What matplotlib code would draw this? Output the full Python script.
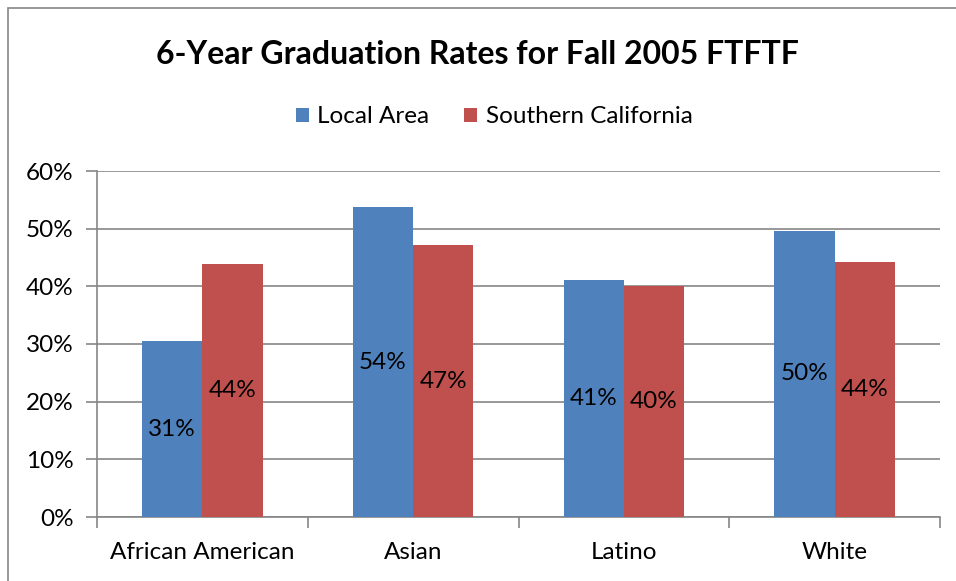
import matplotlib.pyplot as plt
import numpy as np
from matplotlib.patches import Rectangle

# data
categories = ["African American", "Asian", "Latino", "White"]
local_area = [30.5, 53.7, 41.1, 49.6]
southern_ca = [43.9, 47.1, 40.0, 44.2]
local_labels = ["31%", "54%", "41%", "50%"]
socal_labels = ["44%", "47%", "40%", "44%"]
yticks = [0, 10, 20, 30, 40, 50, 60]

blue = "#4F81BD"
red = "#C0504D"
grid_col = "#868686"

plt.rcParams['font.family'] = ['Lato', 'DejaVu Sans']

W, H = 956, 581
fig = plt.figure(figsize=(W / 100, H / 100), dpi=100)

# plot area in pixels: x 97..940, y 171..517
ax = fig.add_axes([97 / W, 1 - 517 / H, (940 - 97) / W, (517 - 171) / H])

# outer chart frame (only left/top visible in the reference)
fig.patches.append(Rectangle((8 / W, -0.05), 1.1, 1 - 8 / H + 0.05,
                             transform=fig.transFigure, fill=False,
                             edgecolor=grid_col, linewidth=1.2))

x = np.arange(len(categories))
bw = 1 / 3.5
b1 = ax.bar(x - bw / 2, local_area, bw, color=blue, label="Local Area", zorder=3)
b2 = ax.bar(x + bw / 2, southern_ca, bw, color=red, label="Southern California", zorder=3)

for bars, labs in ((b1, local_labels), (b2, socal_labels)):
    for bar, lab in zip(bars, labs):
        ax.text(bar.get_x() + bar.get_width() / 2, bar.get_height() / 2, lab,
                ha="center", va="center", fontsize=17.5, color="black", zorder=4)

ax.set_xlim(-0.5, len(categories) - 0.5)
ax.set_ylim(0, 60)
ax.set_yticks(yticks)
ax.set_yticklabels([f"{t}%" for t in yticks], fontsize=17.5)
ax.yaxis.grid(True, color=grid_col, linewidth=1.2, zorder=0)

ax.set_xticks(x)
ax.set_xticklabels(categories, fontsize=17.5)
ax.tick_params(axis="x", length=0, pad=18)
ax.set_xticks(np.arange(len(categories) + 1) - 0.5, minor=True)
ax.tick_params(axis="x", which="minor", length=8, color=grid_col, width=1.2)
ax.tick_params(axis="y", length=8, color=grid_col, width=1.2, pad=9)

for s in ("top", "right"):
    ax.spines[s].set_visible(False)
for s in ("left", "bottom"):
    ax.spines[s].set_color(grid_col)
    ax.spines[s].set_linewidth(1.2)

fig.text(477 / W, 1 - 55 / H, "6-Year Graduation Rates for Fall 2005 FTFTF",
         ha="center", va="center", fontsize=23, fontweight="bold")

fig.legend(handles=[b1, b2], loc="center", bbox_to_anchor=(494 / W, 1 - 117 / H),
           ncol=2, frameon=False, fontsize=17.5, handlelength=0.55, handleheight=0.55,
           handletextpad=0.35, columnspacing=1.4)

fig.savefig("out.png", dpi=100)
